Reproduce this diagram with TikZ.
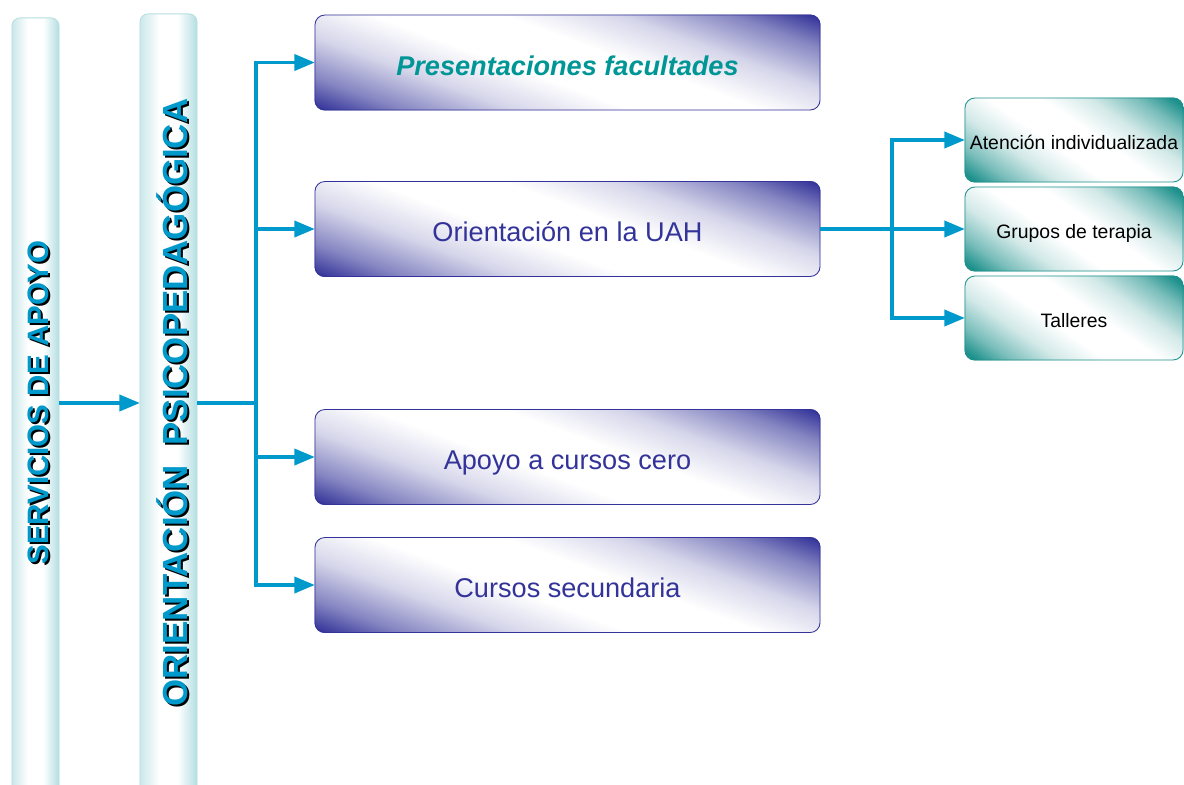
\documentclass[tikz,border=0pt]{standalone}
\usepackage{fontspec}
\setmainfont{Liberation Sans}
\usepackage{tikz}
\usetikzlibrary{positioning}
\usetikzlibrary{backgrounds}
\usetikzlibrary{arrows,shapes}
\usetikzlibrary{calc}

\definecolor{uahindigo}{RGB}{51,51,153}
\definecolor{uahblue}{RGB}{0,153,204}
\definecolor{uahteal}{RGB}{0,150,150}
\definecolor{tealbox}{RGB}{30,145,140}
\definecolor{colrim}{RGB}{180,222,226}

\pgfdeclarehorizontalshading{indigoshade}{100bp}{color(0bp)=(uahindigo); color(27bp)=(uahindigo); color(32bp)=(uahindigo!60); color(39bp)=(uahindigo!20); color(46bp)=(white); color(54bp)=(white); color(61bp)=(uahindigo!20); color(68bp)=(uahindigo!60); color(73bp)=(uahindigo); color(100bp)=(uahindigo)}
\pgfdeclarehorizontalshading{tealshade}{100bp}{color(0bp)=(tealbox); color(27bp)=(tealbox); color(32bp)=(tealbox!60); color(39bp)=(tealbox!20); color(46bp)=(white); color(54bp)=(white); color(61bp)=(tealbox!20); color(68bp)=(tealbox!60); color(73bp)=(tealbox); color(100bp)=(tealbox)}
\pgfdeclarehorizontalshading{colshade}{100bp}{color(0bp)=(colrim); color(25bp)=(colrim!70); color(42bp)=(white); color(58bp)=(white); color(75bp)=(colrim); color(100bp)=(colrim)}

\begin{document}
\begin{tikzpicture}[x=0.025cm,y=-0.025cm]
\tikzstyle{pillar}=[draw=colrim, line width=0.6pt, rounded corners=0.2cm, shading=colshade]
\tikzstyle{pillartext}=[rotate=90, inner sep=0pt, text=uahblue, font=\bfseries\fontsize{21}{25}\selectfont]
\tikzstyle{mainbox}=[draw=uahindigo, line width=0.6pt, rounded corners=0.25cm, minimum width=12.625cm, minimum height=2.375cm, text height=18.5pt, text depth=0.5pt, text=uahindigo, font=\fontsize{19.3}{23}\selectfont]
\tikzstyle{subbox}=[draw=tealbox, line width=0.6pt, rounded corners=0.25cm, minimum width=5.45cm, minimum height=2.1cm, text height=14pt, text depth=0.4pt, text=black, font=\fontsize{13.8}{16}\selectfont]
\tikzstyle{arrow}=[draw=uahblue, line width=2.4pt, -triangle 45]
\tikzstyle{link}=[draw=uahblue, line width=2.4pt]
\useasboundingbox (0,0) rectangle (1184,784);

\node[pillar, minimum width=1.175cm, minimum height=19.55cm] (servcol) at (35.5,409) {};
\node[pillar, minimum width=1.425cm, minimum height=19.65cm] (orientcol) at (168.5,407) {};
\node[pillartext, text=black] (servshadow) at (40.5,404.5) {SERVICIOS DE APOYO};
\node[pillartext] (serv) at (38.5,402.5) {SERVICIOS DE APOYO};
\node[pillartext, text=black, font=\bfseries\fontsize{24.8}{28}\selectfont] (orientshadow) at (174,404.5) {ORIENTACIÓN\ \ PSICOPEDAGÓGICA};
\node[pillartext, font=\bfseries\fontsize{24.8}{28}\selectfont] (orient) at (172,402.5) {ORIENTACIÓN\ \ PSICOPEDAGÓGICA};

\node[mainbox, text=uahteal, font=\bfseries\itshape\fontsize{19.3}{23}\selectfont] (present) at (567.5,62.5) {Presentaciones facultades};
\node[mainbox] (orientuah) at (567.5,229) {Orientación en la UAH};
\node[mainbox] (cero) at (567.5,457) {Apoyo a cursos cero};
\node[mainbox] (secund) at (567.5,585) {Cursos secundaria};

\node[subbox] (indiv) at (1074,140) {Atención individualizada};
\node[subbox] (terapia) at (1074,229) {Grupos de terapia};
\node[subbox] (taller) at (1074,318) {Talleres};

% diagonal shading behind the boxes
\begin{scope}[on background layer]
\foreach \boxname in {present,orientuah,cero,secund}{
  \begin{scope}
  \clip[rounded corners=0.25cm] (\boxname.south west) rectangle (\boxname.north east);
  \shade[shading=indigoshade, transform canvas={shift={(\boxname.center)}, rotate=70}] (-140,-270) rectangle (140,270);
  \end{scope}
}
\foreach \boxname in {indiv,terapia,taller}{
  \begin{scope}
  \clip[rounded corners=0.25cm] (\boxname.south west) rectangle (\boxname.north east);
  \shade[shading=tealshade, transform canvas={shift={(\boxname.center)}, rotate=55}] (-98,-120) rectangle (98,120);
  \end{scope}
}
\end{scope}

\coordinate (trunk) at (256,403);
\coordinate (fork) at (892,229);

\draw[arrow] (servcol.east |- trunk) -- (orientcol.west |- trunk);
\draw[link] (orientcol.east |- trunk) -- (trunk);
\draw[arrow] (trunk) |- (present.west);
\draw[arrow] (trunk) |- (orientuah.west);
\draw[arrow] (trunk) |- (cero.west);
\draw[arrow] (trunk) |- (secund.west);

\draw[arrow] (orientuah.east) -- (terapia.west);
\draw[arrow] (fork) |- (indiv.west);
\draw[arrow] (fork) |- (taller.west);
\end{tikzpicture}
\end{document}
